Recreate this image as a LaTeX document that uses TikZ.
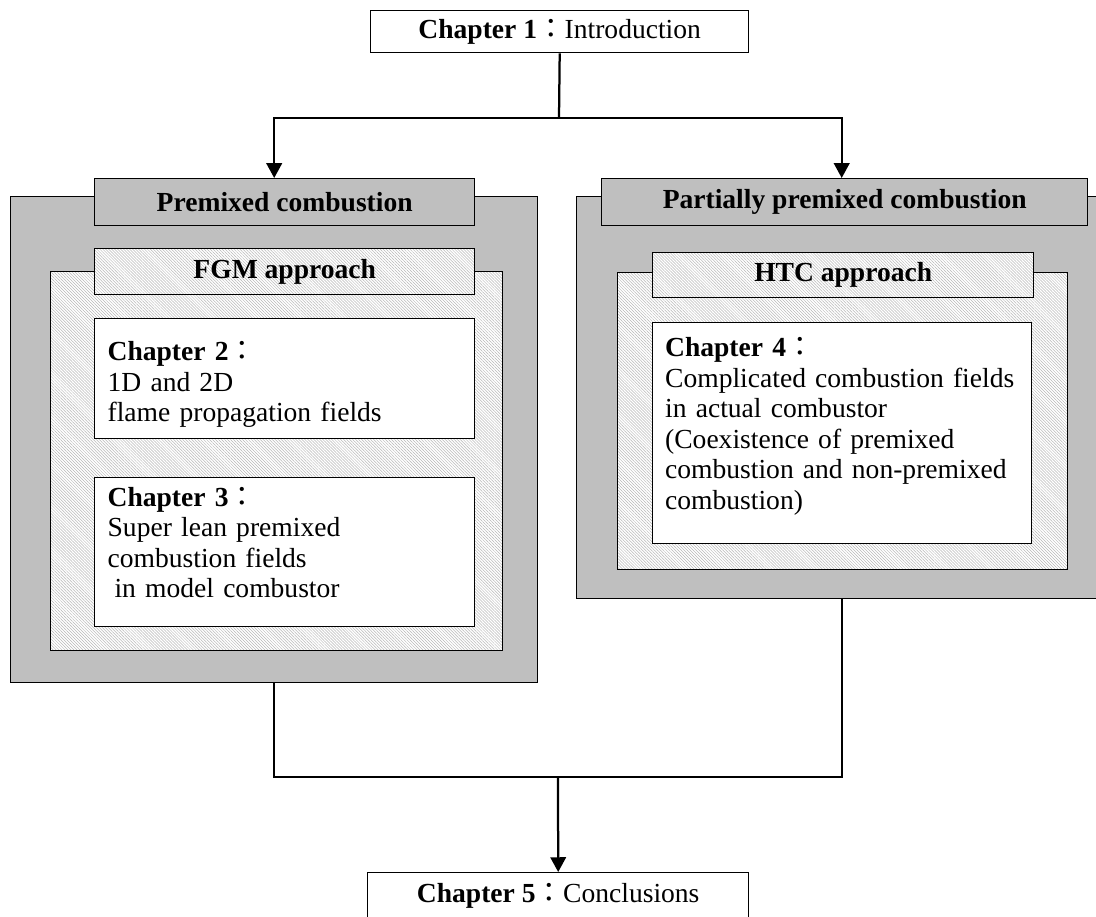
\documentclass[tikz,border=0pt]{standalone}
\usepackage{fontspec}
\setmainfont{Liberation Serif}
\newfontfamily\cjk{Noto Sans CJK JP}
\usetikzlibrary{arrows.meta,patterns.meta}
\definecolor{boxgray}{gray}{0.75}
\definecolor{hatchline}{gray}{0.72}
\newcommand{\fwcolon}{{\cjk ：}}
\tikzset{
	every node/.style={font=\fontsize{19.6}{21.7}\selectfont},
	size/.style 2 args={minimum width=#1*0.025cm, minimum height=#2*0.025cm, anchor=north west},
	plainbox/.style={draw, line width=1pt, fill=white, inner sep=0pt},
	graybox/.style={draw, line width=1pt, fill=boxgray, inner sep=0pt},
	hatchbox/.style={draw, line width=1pt, inner sep=0pt, preaction={fill=white},
		pattern={Lines[angle=-45,distance=1.5pt,line width=0.35pt]}, pattern color=hatchline},
	chapbox/.style={plainbox, align=left, text width=8.85cm},
	pushdown/.style={execute at begin node={\rule{0pt}{#1}}},
	pushup/.style={execute at end node={\rule[-#1]{0pt}{0pt}}},
	link/.style={line width=1.6pt},
	arrow/.style={link, -{Triangle[length=10.5pt,width=11pt]}}
}
\begin{document}
\begin{tikzpicture}[x=0.025cm,y=-0.025cm]
	\useasboundingbox (0,0) rectangle (1096,916);
	\node[plainbox, size={378}{42}] (intro) at (370,10) {\textbf{Chapter 1}\fwcolon Introduction};
	% premixed side
	\node[graybox, size={527}{486}] (premix) at (10,196) {};
	\node[graybox, size={380}{47}] (premixhead) at (94,178) {\textbf{Premixed combustion}};
	\node[hatchbox, size={452}{379}] (fgmzone) at (50,271) {};
	\node[hatchbox, size={380}{46}] (fgmhead) at (94,248) {\textbf{FGM approach}};
	\node[chapbox, pushdown=22pt, size={380}{120}] (chtwo) at (94,318) {\textbf{Chapter 2}\fwcolon\\1D and 2D\\flame propagation fields};
	\node[chapbox, pushup=14pt, size={380}{149}] (chthree) at (94,477) {\textbf{Chapter 3}\fwcolon\\Super lean premixed\\combustion fields\\\hspace*{0.25em}in model combustor};
	% partially premixed side
	\node[graybox, size={530}{402}] (partial) at (576,196) {};
	\node[graybox, size={486}{47}] (partialhead) at (601,178) {\textbf{Partially premixed combustion}};
	\node[hatchbox, size={450}{297}] (htczone) at (617,272) {};
	\node[hatchbox, size={381}{45}] (htchead) at (652,252) {\textbf{HTC approach}};
	\node[chapbox, pushup=14pt, size={379}{221}] (chfour) at (652,322) {\textbf{Chapter 4}\fwcolon\\Complicated combustion fields\\in actual combustor\\(Coexistence of premixed\\combustion and non-premixed\\combustion)};
	\node[plainbox, size={381}{46}] (concl) at (367,872) {\textbf{Chapter 5}\fwcolon Conclusions};
	% connectors
	\coordinate (split) at (559,118);
	\coordinate (merge) at (558,777);
	\draw[link] (intro.south) -- (split);
	\draw[arrow] (split) -| (premix.north |- premixhead.north);
	\draw[arrow] (split) -| (partial.north |- partialhead.north);
	\draw[link] (premix.south) |- (merge);
	\draw[link] (partial.south) |- (merge);
	\draw[arrow] (merge) -- (concl.north);
\end{tikzpicture}
\end{document}
